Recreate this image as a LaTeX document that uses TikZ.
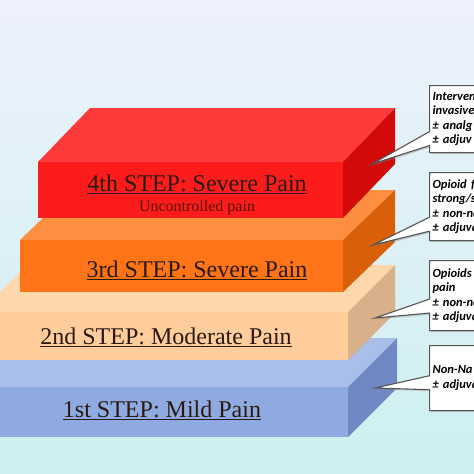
\documentclass[tikz,border=0pt]{standalone}
\usepackage{fontspec}
\setmainfont{Liberation Serif}
\newfontfamily\notefont{Carlito}
\usetikzlibrary{shapes.callouts,shadows}

\definecolor{bgtop}{HTML}{EDF1FC}
\definecolor{bgmid}{HTML}{DCF0EA}
\definecolor{bgbot}{HTML}{CDF0F0}
\definecolor{topred}{HTML}{FF3A3A}
\definecolor{frontred}{HTML}{FC1C1C}
\definecolor{sidered}{HTML}{D20A0A}
\definecolor{toporange}{HTML}{FF8F40}
\definecolor{frontorange}{HTML}{FF7417}
\definecolor{sideorange}{HTML}{D96008}
\definecolor{toppeach}{HTML}{FFD7AD}
\definecolor{frontpeach}{HTML}{FFCC9B}
\definecolor{sidepeach}{HTML}{D8B08A}
\definecolor{topblue}{HTML}{A9BFEA}
\definecolor{frontblue}{HTML}{8FAAE0}
\definecolor{sideblue}{HTML}{7088C4}
\definecolor{labeltext}{HTML}{2A1A10}
\definecolor{subtext}{HTML}{5A1408}
\definecolor{notegray}{HTML}{555555}

\tikzset{
  steplabel/.style={font=\fontsize{24}{26}\selectfont, text=labeltext},
  sublabel/.style={font=\fontsize{16}{18}\selectfont, text=subtext},
  note/.style={rectangle callout, draw=notegray, line width=1.1pt, fill=white,
    anchor=north west, text width=90pt, inner xsep=3pt, align=left,
    font=\notefont\bfseries\itshape\fontsize{12.5}{14.5}\selectfont,
    callout pointer width=14pt,
    drop shadow={opacity=0.35, shadow xshift=1.5pt, shadow yshift=-1.5pt}}
}

\begin{document}
\begin{tikzpicture}[x=1pt,y=-1pt]
	\useasboundingbox (0,0) rectangle (474,474);
	\clip (0,0) rectangle (474,474);
	\shade[top color=bgtop, middle color=bgmid, bottom color=bgbot] (0,0) rectangle (474,474);

	% slabs, lowest first
	\foreach \lx/\rx/\ty/\by/\dx/\dy/\col in {-60/348/387/437/49/49/blue, -20/348/312/360/47/47/peach, 20/343/240/292/52/50/orange, 38/343/162/218/52/54/red} {
		\fill[top\col] (\lx,\ty) -- (\rx,\ty) -- (\rx+\dx,\ty-\dy) -- (\lx+\dx,\ty-\dy) -- cycle;
		\fill[front\col] (\lx,\ty) rectangle (\rx,\by);
		\fill[side\col] (\rx,\ty) -- (\rx+\dx,\ty-\dy) -- (\rx+\dx,\by-\dy) -- (\rx,\by) -- cycle;
	}

	\node[steplabel] (step4) at (197,184) {\underline{4th STEP: Severe Pain}};
	\node[sublabel] (step4sub) at (197,208) {Uncontrolled pain};
	\node[steplabel] (step3) at (197,270) {\underline{3rd STEP: Severe Pain}};
	\node[steplabel] (step2) at (166,337) {\underline{2nd STEP: Moderate Pain}};
	\node[steplabel] (step1) at (162,410) {\underline{1st STEP: Mild Pain}};

	% callouts
	\coordinate (tip4) at (372,164);
	\coordinate (tip3) at (373,245);
	\coordinate (tip2) at (375,318);
	\coordinate (tip1) at (375,388);

	\node[note, minimum height=67pt, callout absolute pointer={(tip4)}] (note4) at (429,85) {Interven\\invasive\\± analg\\± adjuv};
	\node[note, minimum height=68pt, callout absolute pointer={(tip3)}] (note3) at (429,172) {Opioid f\\strong/s\\± non-na\\± adjuva};
	\node[note, minimum height=70pt, callout absolute pointer={(tip2)}] (note2) at (429,260) {Opioids\\pain\\± non-na\\± adjuva};
	\node[note, minimum height=65pt, callout absolute pointer={(tip1)}] (note1) at (429,345) {Non-Na\\± adjuva};
\end{tikzpicture}
\end{document}
